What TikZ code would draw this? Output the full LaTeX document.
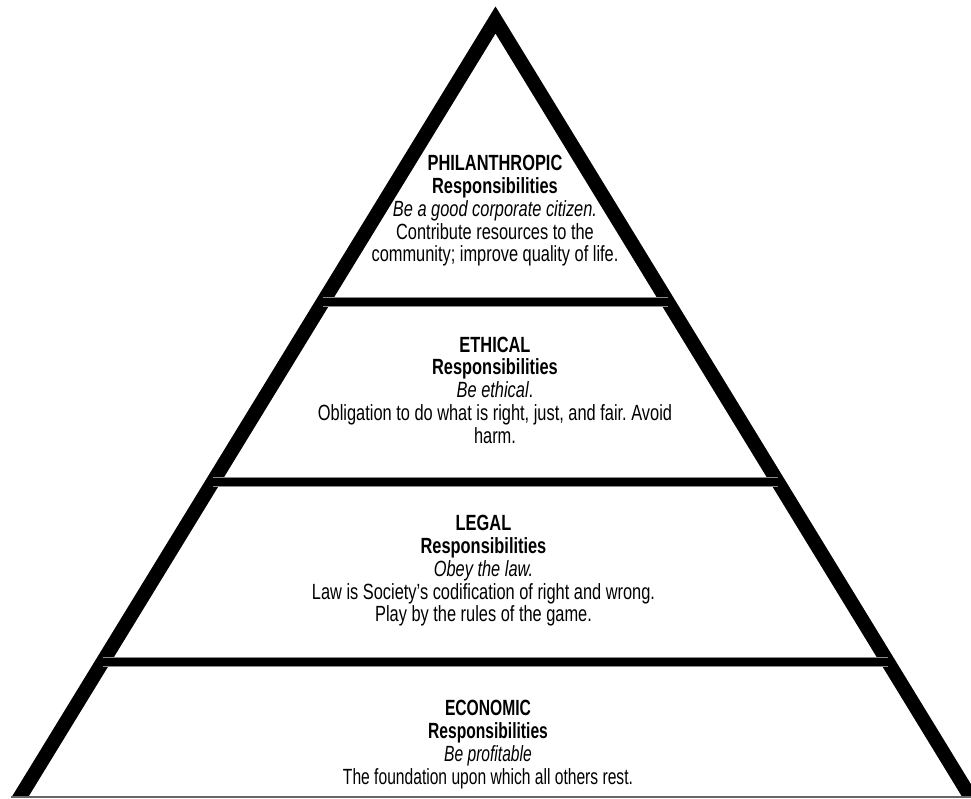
\documentclass[tikz,border=0pt]{standalone}
\usepackage{fontspec}
\newfontfamily\pyrfont[FakeStretch=0.745]{Liberation Sans}
\newfontfamily\basefont[FakeStretch=0.71]{Liberation Sans}
\usetikzlibrary{calc}
\frenchspacing

\begin{document}
\begin{tikzpicture}[x=1pt,y=-1pt,
    side/.style={line width=14pt, line join=miter},
    divider/.style={line width=8pt},
    tier/.style={anchor=north, inner sep=0pt, align=center,
                 font=\pyrfont\fontsize{22}{22.8}\selectfont}]
    \useasboundingbox (0,0) rectangle (971,798);

    % 三角形顶点
    \coordinate (apex) at (495.5,20);
    \coordinate (bl) at (20,797);
    \coordinate (br) at (970.5,797);

    % 两条斜边
    \begin{scope}
        \clip (0,0) rectangle (971,797);
        \draw[side, black!45, shift={(0,-1.5)}] ($(apex)!1.03!(bl)$) -- (apex) -- ($(apex)!1.03!(br)$);
        \draw[side, black] ($(apex)!1.03!(bl)$) -- (apex) -- ($(apex)!1.03!(br)$);
    \end{scope}

    % 底边
    \draw[black!60, line width=2pt] (11,797) -- (971,797);

    % 分隔线
    \foreach \t in {0.3629,0.5946,0.8263} {
        \draw[divider, black!45, line width=9.5pt] ($(apex)!\t!(bl)$) -- ($(apex)!\t!(br)$);
        \draw[divider, black] ($(apex)!\t!(bl)$) -- ($(apex)!\t!(br)$);
    }

    % 各层文字
    \node[tier] (phil) at (495,155.2) {\textbf{PHILANTHROPIC}\\ \textbf{Responsibilities}\\
        \textit{Be a good corporate citizen.}\\ Contribute resources to the\\
        community; improve quality of life.};
    \node[tier] (ethic) at (495,336.5) {\textbf{ETHICAL}\\ \textbf{Responsibilities}\\
        \textit{Be ethical}.\\ Obligation to do what is right, just, and fair. Avoid\\ harm.};
    \node[tier] (legal) at (483.5,515.2) {\textbf{LEGAL}\\ \textbf{Responsibilities}\\
        \textit{Obey the law.}\\ Law is Society’s codification of right and wrong.\\
        Play by the rules of the game.};
    \node[tier, font=\basefont\fontsize{22}{22.8}\selectfont] (econ) at (488,700.2)
        {\textbf{ECONOMIC}\\ \textbf{Responsibilities}\\
        \textit{Be profitable}\\ The foundation upon which all others rest.};

\end{tikzpicture}
\end{document}
